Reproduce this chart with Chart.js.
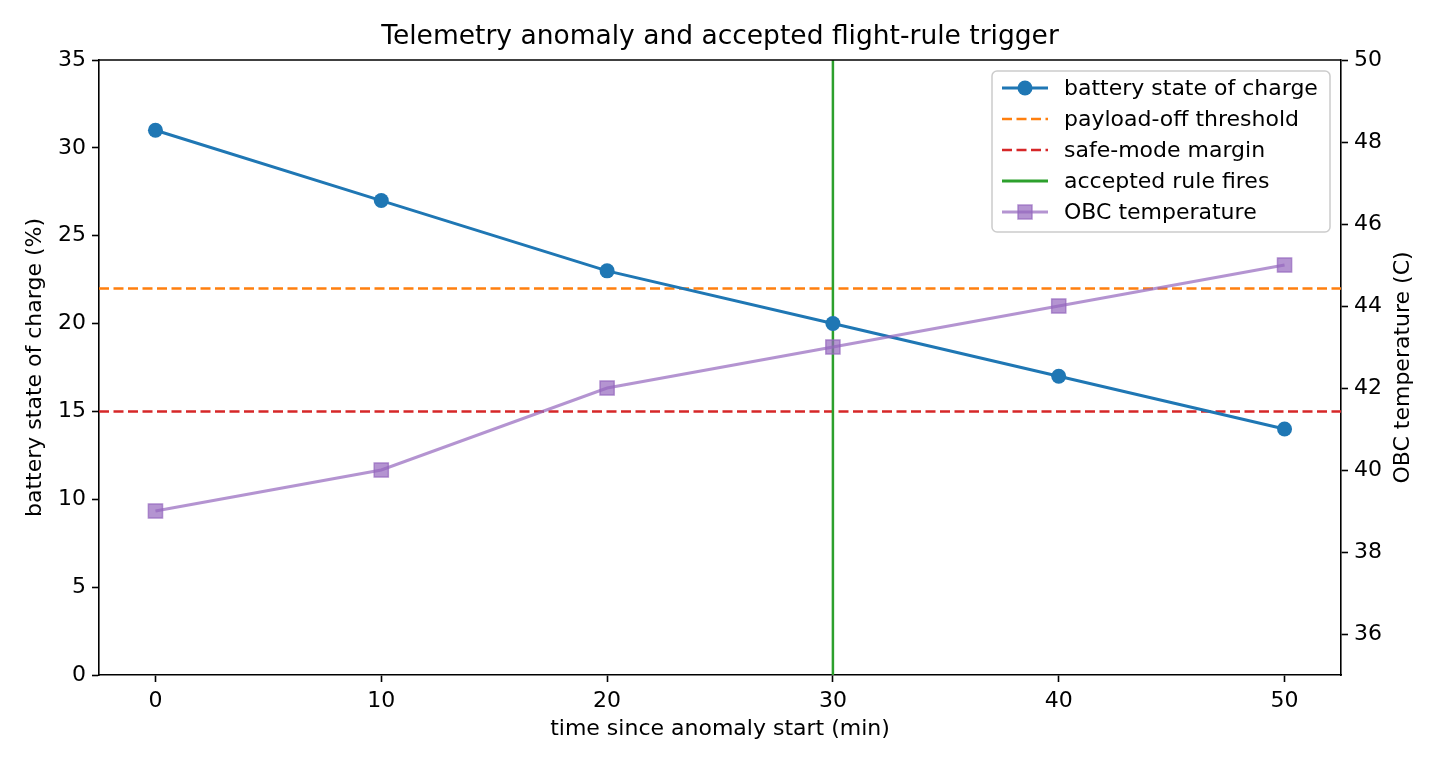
<!DOCTYPE html>
<html>
<head>
<meta charset="utf-8">
<script src="https://cdn.jsdelivr.net/npm/chart.js@4"></script>
<style>
  html, body { margin: 0; padding: 0; background: #fff; }
  #wrap { width: 1440px; height: 768px; }
</style>
</head>
<body>
<div id="wrap"><canvas id="chartTelemetry" width="1440" height="768"></canvas></div>
<script>
/* ── data ── */
const timeMin = [0, 10, 20, 30, 40, 50];
const batteryPct = [31, 27, 23, 20, 17, 14];
const obcTempC = [39, 40, 42, 43, 44, 45];
const payloadOffLevel = 22;
const safeModeLevel = 15;
const ruleFireTime = 30;

const xTicks = [0, 10, 20, 30, 40, 50];
const yLeftTicks = [0, 5, 10, 15, 20, 25, 30, 35];
const yRightTicks = [36, 38, 40, 42, 44, 46, 48, 50];

const xRange = [-2.5, 52.5];
const yLeftRange = [0, 35];
const yRightRange = [35, 50];

const FONT = 'DejaVu Sans, Verdana, sans-serif';
const TXT = 22;
const BLUE = '#1f77b4';
const ORANGE = '#ff7f0e';
const RED = '#d62728';
const GREEN = '#2ca02c';
const PURPLE = 'rgba(148,103,189,0.7)';

const pts = (xs, ys) => xs.map((x, i) => ({ x: x, y: ys[i] }));
const hline = v => [{ x: xRange[0], y: v }, { x: xRange[1], y: v }];

/* legend entries, drawn by hand so line + marker handles look right */
const legendItems = [
    { label: 'battery state of charge', color: BLUE, marker: 'circle' },
    { label: 'payload-off threshold', color: ORANGE, dash: [10, 4.5] },
    { label: 'safe-mode margin', color: RED, dash: [10, 4.5] },
    { label: 'accepted rule fires', color: GREEN },
    { label: 'OBC temperature', color: PURPLE, marker: 'square' }
];

const fixedTicks = list => scale => { scale.ticks = list.map(v => ({ value: v })); };

const decorPlugin = {
    id: 'decor',
    afterDraw(chart) {
        const ctx = chart.ctx;
        const a = chart.chartArea;
        ctx.save();

        // top spine
        ctx.strokeStyle = '#000';
        ctx.lineWidth = 1.6;
        ctx.beginPath();
        ctx.moveTo(a.left, a.top);
        ctx.lineTo(a.right, a.top);
        ctx.stroke();

        // title
        ctx.fillStyle = '#000';
        ctx.font = '26.5px ' + FONT;
        ctx.textAlign = 'center';
        ctx.textBaseline = 'middle';
        ctx.fillText('Telemetry anomaly and accepted flight-rule trigger', (a.left + a.right) / 2, 37);

        // right axis title (reads bottom to top)
        ctx.font = TXT + 'px ' + FONT;
        ctx.translate(1403, (a.top + a.bottom) / 2);
        ctx.rotate(-Math.PI / 2);
        ctx.fillText('OBC temperature (C)', 0, 0);
        ctx.setTransform(1, 0, 0, 1, 0, 0);

        // legend box
        const bx = 992, by = 71, bw = 338, bh = 161, r = 5;
        ctx.beginPath();
        ctx.moveTo(bx + r, by);
        ctx.arcTo(bx + bw, by, bx + bw, by + bh, r);
        ctx.arcTo(bx + bw, by + bh, bx, by + bh, r);
        ctx.arcTo(bx, by + bh, bx, by, r);
        ctx.arcTo(bx, by, bx + bw, by, r);
        ctx.closePath();
        ctx.fillStyle = 'rgba(255,255,255,0.8)';
        ctx.fill();
        ctx.strokeStyle = '#cccccc';
        ctx.lineWidth = 1.5;
        ctx.stroke();

        legendItems.forEach((it, i) => {
            const y = 88 + i * 31;
            ctx.strokeStyle = it.color;
            ctx.lineWidth = it.dash ? 2.5 : 3;
            ctx.setLineDash(it.dash || []);
            ctx.beginPath();
            ctx.moveTo(1002, y);
            ctx.lineTo(1048, y);
            ctx.stroke();
            ctx.setLineDash([]);
            if (it.marker === 'circle') {
                ctx.fillStyle = it.color;
                ctx.beginPath();
                ctx.arc(1025, y, 7.5, 0, Math.PI * 2);
                ctx.fill();
            } else if (it.marker === 'square') {
                ctx.fillStyle = it.color;
                ctx.lineWidth = 1.5;
                ctx.fillRect(1018, y - 7, 14, 14);
                ctx.strokeRect(1018, y - 7, 14, 14);
            }
            ctx.fillStyle = '#000';
            ctx.font = TXT + 'px ' + FONT;
            ctx.textAlign = 'left';
            ctx.fillText(it.label, 1064, y + 1);
        });

        ctx.restore();
    }
};

const axisCommon = {
    grid: { drawOnChartArea: false, drawTicks: true, tickLength: 7, color: '#000', tickWidth: 1.6 },
    border: { display: true, color: '#000', width: 1.6 },
    ticks: { color: '#000', font: { family: FONT, size: TXT }, padding: 6 }
};

new Chart(document.getElementById('chartTelemetry'), {
    type: 'line',
    data: {
        datasets: [
            {
                label: 'OBC temperature',
                data: pts(timeMin, obcTempC),
                yAxisID: 'y2',
                borderColor: PURPLE,
                backgroundColor: PURPLE,
                borderWidth: 3,
                pointStyle: 'rect',
                pointRadius: 10,
                pointBorderWidth: 1.5,
                order: 0
            },
            {
                label: 'battery state of charge',
                data: pts(timeMin, batteryPct),
                yAxisID: 'y',
                borderColor: BLUE,
                backgroundColor: BLUE,
                borderWidth: 3,
                pointRadius: 7.5,
                pointBorderWidth: 0,
                order: 1
            },
            {
                label: 'accepted rule fires',
                data: [{ x: ruleFireTime, y: yLeftRange[0] }, { x: ruleFireTime, y: yLeftRange[1] }],
                yAxisID: 'y',
                borderColor: GREEN,
                borderWidth: 2.5,
                pointRadius: 0,
                order: 2
            },
            {
                label: 'safe-mode margin',
                data: hline(safeModeLevel),
                yAxisID: 'y',
                borderColor: RED,
                borderWidth: 2.5,
                borderDash: [10, 4.5],
                pointRadius: 0,
                order: 3
            },
            {
                label: 'payload-off threshold',
                data: hline(payloadOffLevel),
                yAxisID: 'y',
                borderColor: ORANGE,
                borderWidth: 2.5,
                borderDash: [10, 4.5],
                pointRadius: 0,
                order: 4
            }
        ]
    },
    options: {
        responsive: false,
        devicePixelRatio: 1,
        animation: false,
        layout: { padding: { top: 60, left: 0, right: 0, bottom: 0 } },
        plugins: {
            legend: { display: false },
            title: { display: false },
            tooltip: { enabled: false }
        },
        scales: {
            x: {
                ...axisCommon,
                type: 'linear',
                min: xRange[0],
                max: xRange[1],
                afterBuildTicks: fixedTicks(xTicks),
                afterFit: s => { s.height = 93; },
                title: {
                    display: true,
                    text: 'time since anomaly start (min)',
                    color: '#000',
                    font: { family: FONT, size: TXT },
                    padding: { top: 0, bottom: 26 }
                }
            },
            y: {
                ...axisCommon,
                position: 'left',
                min: yLeftRange[0],
                max: yLeftRange[1],
                afterBuildTicks: fixedTicks(yLeftTicks),
                afterFit: s => { s.width = 99; },
                title: {
                    display: true,
                    text: 'battery state of charge (%)',
                    color: '#000',
                    font: { family: FONT, size: TXT },
                    padding: { top: 22, bottom: 0 }
                }
            },
            y2: {
                ...axisCommon,
                position: 'right',
                min: yRightRange[0],
                max: yRightRange[1],
                afterBuildTicks: fixedTicks(yRightTicks),
                afterFit: s => { s.width = 99; }
            }
        }
    },
    plugins: [decorPlugin]
});
</script>
</body>
</html>
